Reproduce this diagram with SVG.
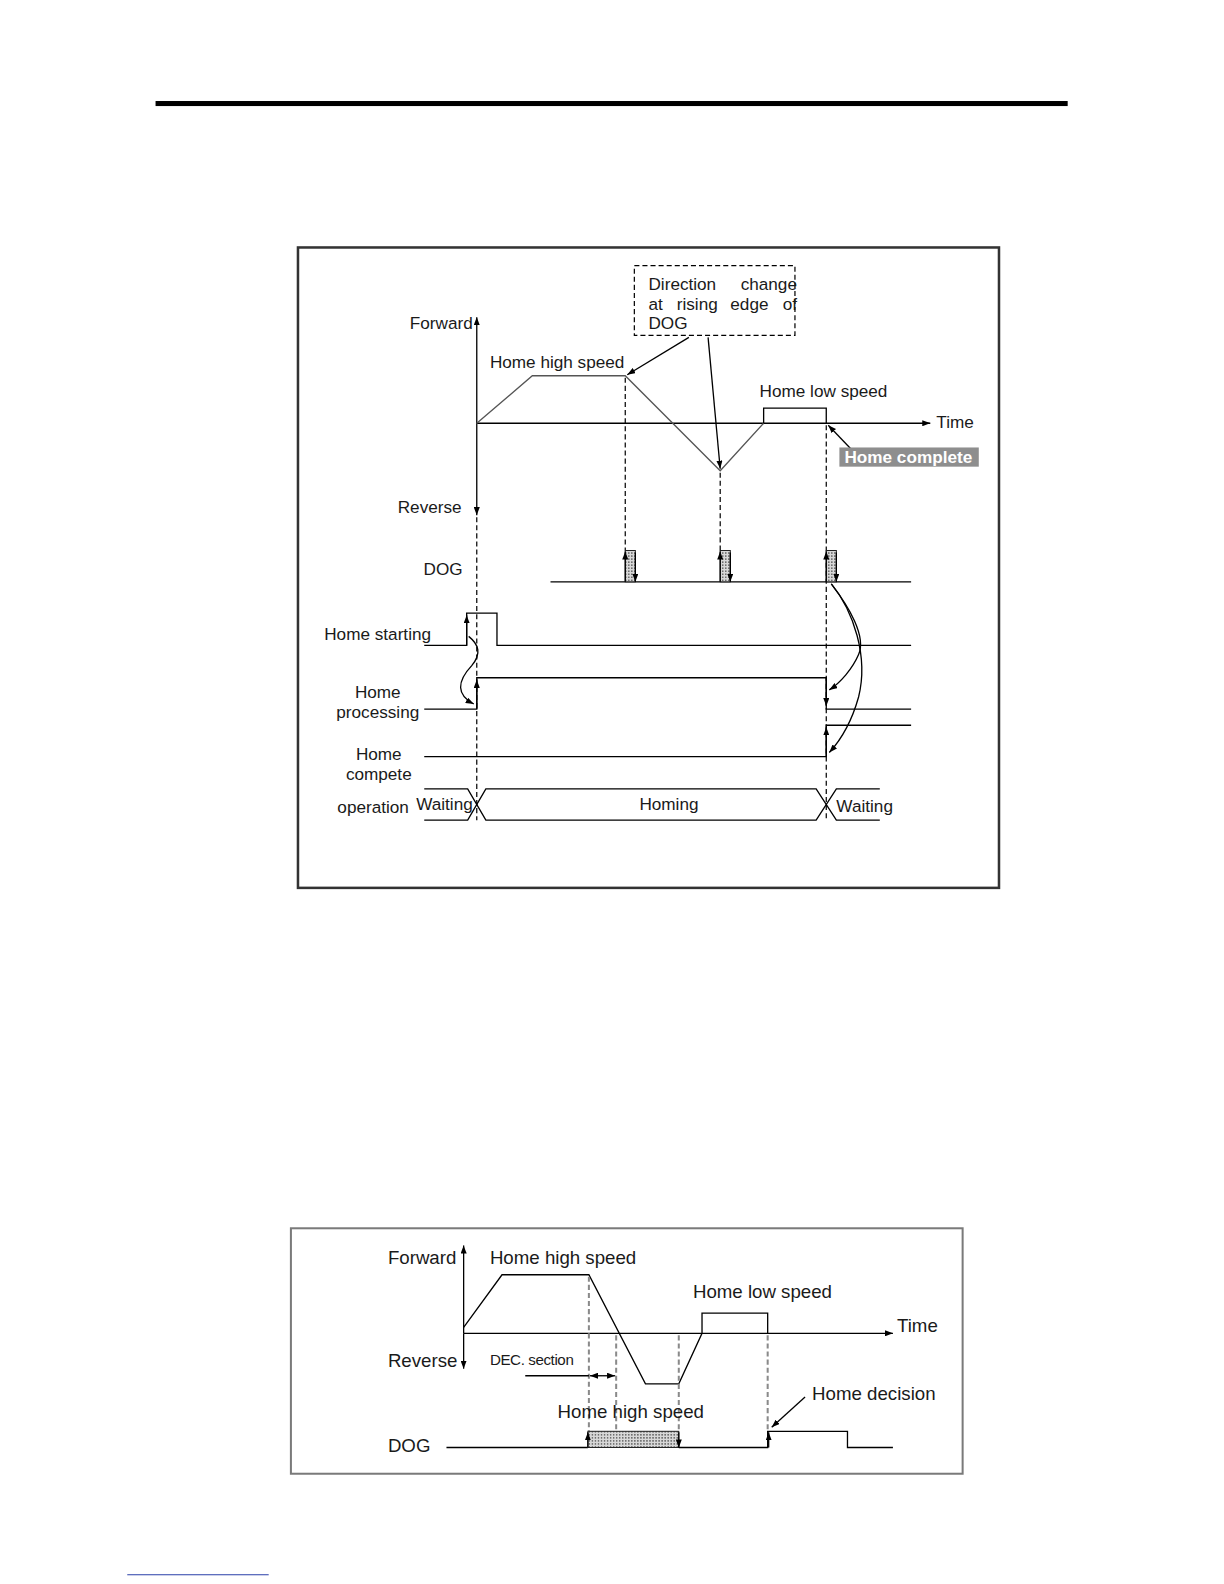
<svg xmlns="http://www.w3.org/2000/svg" width="1224" height="1584" viewBox="0 0 1224 1584">
<defs>
<style>
text{font-family:"Liberation Sans",Arial,sans-serif;fill:#1a1a1a}
.t17{font-size:17px}
.t18{font-size:18.5px}
.ln{stroke:#000;stroke-width:1.3;fill:none}
.pf{stroke:#555;stroke-width:1.3;fill:none}
.ds{stroke:#000;stroke-width:1.2;stroke-dasharray:5,3;fill:none}
.ds2{stroke:#8a8a8a;stroke-width:2;stroke-dasharray:5,3;fill:none}
.ar{stroke:#000;stroke-width:1.3;fill:none;marker-end:url(#ah)}
.pulse{fill:url(#dots);stroke:#222;stroke-width:1}
</style>
<marker id="ah" viewBox="0 0 8 6" refX="8" refY="3" markerWidth="8" markerHeight="6" markerUnits="userSpaceOnUse" orient="auto-start-reverse">
<path d="M0,0 L8,3 L0,6 z" fill="#000"/>
</marker>
<pattern id="dots" width="3" height="3" patternUnits="userSpaceOnUse">
<rect width="3" height="3" fill="#d8d8d8"/>
<circle cx="1.5" cy="1.5" r="0.8" fill="#555"/>
</pattern>
</defs>

<g transform="scale(1.0101)">
<rect x="154" y="100" width="903" height="5" fill="#000"/>
<line x1="126" y1="1559" x2="266" y2="1559" stroke="#2a3fa8" stroke-width="1"/>

<!-- TOP DIAGRAM -->
<g id="top-frame">
<rect x="295" y="245" width="694" height="634" fill="none" stroke="#333" stroke-width="2.5"/>
</g>

<g id="connectors">
<line x1="472" y1="419" x2="472" y2="314" class="ln" marker-end="url(#ah)"/>
<line x1="472" y1="419" x2="472" y2="510" class="ln" marker-end="url(#ah)"/>
<line x1="472" y1="419" x2="921" y2="419" class="ln" marker-end="url(#ah)"/>
<polyline class="pf" points="472,419 527,372 619,372 713,466 756,419"/>
<polyline class="ln" points="756,419 756,404 818,404 818,419"/>
<line class="ds" x1="472" y1="512" x2="472" y2="812"/>
<line class="ds" x1="619" y1="374" x2="619" y2="545"/>
<line class="ds" x1="713" y1="468" x2="713" y2="545"/>
<line class="ds" x1="818" y1="421" x2="818" y2="812"/>
<line class="ar" x1="682" y1="334" x2="621" y2="371"/>
<line class="ar" x1="701" y1="334" x2="713" y2="464"/>
<line class="ar" x1="842" y1="444" x2="820" y2="421"/>
<line class="ln" x1="545" y1="576" x2="902" y2="576"/>
<rect class="pulse" x="619" y="545" width="10" height="31"/>
<rect class="pulse" x="713" y="545" width="10" height="31"/>
<rect class="pulse" x="818" y="545" width="10" height="31"/>
<line class="ar" x1="619" y1="576" x2="619" y2="546"/>
<line class="ar" x1="629" y1="547" x2="629" y2="576"/>
<line class="ar" x1="713" y1="576" x2="713" y2="546"/>
<line class="ar" x1="723" y1="547" x2="723" y2="576"/>
<line class="ar" x1="818" y1="576" x2="818" y2="546"/>
<line class="ar" x1="828" y1="547" x2="828" y2="576"/>
<polyline class="ln" points="420,639 462,639 462,607 492,607 492,639 902,639"/>
<line class="ar" x1="462" y1="639" x2="462" y2="609"/>
<path class="ar" d="M464,630 C474,638 477,647 467,659 C452,675 452,688 469,697"/>
<polyline class="ln" points="420,702 472,702 472,671 818,671 818,702 902,702"/>
<line class="ar" x1="472" y1="702" x2="472" y2="673"/>
<line class="ar" x1="818" y1="671" x2="818" y2="699"/>
<polyline class="ln" points="420,749 818,749 818,718 902,718"/>
<line class="ar" x1="818" y1="749" x2="818" y2="720"/>
<path class="ar" d="M823,578 C840,600 858,630 850,648 C844,662 832,676 821,683"/>
<path class="ar" d="M823,578 C845,605 860,650 850,690 C843,715 832,733 821,745"/>
<path class="ln" d="M420,781 L463,781 L481,812 L808,812 L828,781 L871,781"/>
<path class="ln" d="M420,812 L463,812 L481,781 L808,781 L828,812 L871,812"/>
</g>

<g id="callout">
<rect x="628" y="263" width="159" height="69" fill="none" stroke="#000" stroke-width="1.2" stroke-dasharray="5,3"/>
<text class="t17" x="642" y="287">Direction</text>
<text class="t17" x="789" y="287" text-anchor="end">change</text>
<text class="t17" x="642" y="307">at</text>
<text class="t17" x="670" y="307">rising</text>
<text class="t17" x="723" y="307">edge</text>
<text class="t17" x="789" y="307" text-anchor="end">of</text>
<text class="t17" x="642" y="326">DOG</text>
</g>

<g id="labels-top">
<text class="t17" x="468" y="326" text-anchor="end">Forward</text>
<text class="t17" x="457" y="508" text-anchor="end">Reverse</text>
<text class="t17" x="927" y="424">Time</text>
<text class="t17" x="485" y="364">Home high speed</text>
<text class="t17" x="752" y="393">Home low speed</text>
<text class="t17" x="458" y="569" text-anchor="end">DOG</text>
<text class="t17" x="321" y="634">Home starting</text>
<text class="t17" x="374" y="691" text-anchor="middle">Home</text>
<text class="t17" x="374" y="711" text-anchor="middle">processing</text>
<text class="t17" x="375" y="752" text-anchor="middle">Home</text>
<text class="t17" x="375" y="772" text-anchor="middle">compete</text>
<text class="t17" x="334" y="805">operation</text>
<text class="t17" x="412" y="802">Waiting</text>
<text class="t17" x="633" y="802">Homing</text>
<text class="t17" x="828" y="804">Waiting</text>
</g>

<g id="home-complete">
<rect x="831" y="443" width="138" height="19" fill="#8e8e8e"/>
<text x="836" y="458" style="font-size:17px;font-weight:bold;fill:#fff">Home complete</text>
</g>

<!-- BOTTOM DIAGRAM -->
<g id="bottom-frame">
<rect x="288" y="1216" width="665" height="243" fill="none" stroke="#7a7a7a" stroke-width="2"/>
</g>

<g id="connectors-bottom">
<line x1="459" y1="1320" x2="459" y2="1233" class="ln" marker-end="url(#ah)"/>
<line x1="459" y1="1320" x2="459" y2="1355" class="ln" marker-end="url(#ah)"/>
<line x1="459" y1="1320" x2="884" y2="1320" class="ln" marker-end="url(#ah)"/>
<polyline class="ln" points="459,1314 497,1262 583,1262 639,1370 672,1370 695,1320 695,1300 760,1300 760,1320"/>
<line class="ds2" x1="583" y1="1264" x2="583" y2="1417"/>
<line class="ds2" x1="610" y1="1322" x2="610" y2="1433"/>
<line class="ds2" x1="672" y1="1322" x2="672" y2="1417"/>
<line class="ds2" x1="760" y1="1322" x2="760" y2="1417"/>
<line class="ln" x1="520" y1="1362" x2="583" y2="1362"/>
<line class="ar" x1="596" y1="1362" x2="584" y2="1362"/>
<line class="ar" x1="596" y1="1362" x2="609" y2="1362"/>
<polyline class="ln" points="442,1433 582,1433"/>
<rect class="pulse" x="582" y="1417" width="90" height="16"/>
<polyline class="ln" points="672,1433 760,1433 760,1417 839,1417 839,1433 884,1433"/>
<line class="ar" x1="582" y1="1433" x2="582" y2="1418"/>
<line class="ar" x1="672" y1="1418" x2="672" y2="1433"/>
<line class="ar" x1="761" y1="1433" x2="761" y2="1418"/>
<line class="ar" x1="797" y1="1383" x2="764" y2="1413"/>
</g>

<g id="labels-bottom">
<text class="t18" x="384" y="1251">Forward</text>
<text class="t18" x="384" y="1353">Reverse</text>
<text class="t18" x="888" y="1319">Time</text>
<text class="t18" x="485" y="1251">Home high speed</text>
<text class="t18" x="686" y="1285">Home low speed</text>
<text x="485" y="1351" style="font-size:15px;letter-spacing:-0.4px">DEC. section</text>
<text class="t18" x="552" y="1404">Home high speed</text>
<text class="t18" x="804" y="1386">Home decision</text>
<text class="t18" x="384" y="1437">DOG</text>
</g>
</g>
</svg>
